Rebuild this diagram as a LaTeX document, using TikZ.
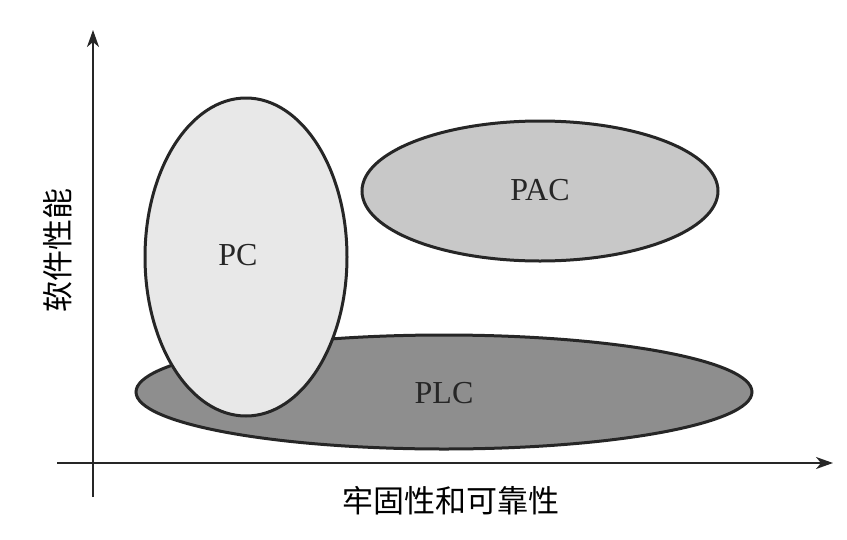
\documentclass[tikz,border=0pt]{standalone}
\usepackage{fontspec}
\setmainfont{Liberation Serif}
\newfontfamily\cjk{Noto Sans CJK SC}
\usetikzlibrary{arrows.meta}
\definecolor{pcfill}{HTML}{E8E8E8}
\definecolor{pacfill}{HTML}{C8C8C8}
\definecolor{plcfill}{HTML}{8E8E8E}
\tikzset{
  blob/.style={draw=black!85, line width=3pt},
  axis/.style={draw=black!85, line width=1.8pt, -{Stealth[length=17pt,width=12pt,inset=5pt]}},
  lbl/.style={font=\fontsize{32}{36}\selectfont, text=black!85},
  clbl/.style={font=\cjk\fontsize{31}{34}\selectfont}
}
\begin{document}
\begin{tikzpicture}[x=1pt,y=-1pt]
\useasboundingbox (0,0) rectangle (847,539);
\coordinate (yb) at (93,497);
\coordinate (yt) at (93,30);
\coordinate (xl) at (57,463);
\coordinate (xr) at (833,463);
\draw[axis] (yb) -- (yt);
\draw[axis] (xl) -- (xr);
\filldraw[blob, fill=plcfill] (444,392) ellipse [x radius=308, y radius=57];
\filldraw[blob, fill=pacfill] (540,191) ellipse [x radius=178, y radius=70];
\filldraw[blob, fill=pcfill] (246,257) ellipse [x radius=101, y radius=159];
\node[lbl] (pc) at (238,255) {PC};
\node[lbl] (pac) at (540,190) {PAC};
\node[lbl] (plc) at (444,393) {PLC};
\node[clbl] (xlab) at (451,501) {牢固性和可靠性};
\node[clbl, rotate=90] (ylab) at (58,250) {软件性能};
\end{tikzpicture}
\end{document}
